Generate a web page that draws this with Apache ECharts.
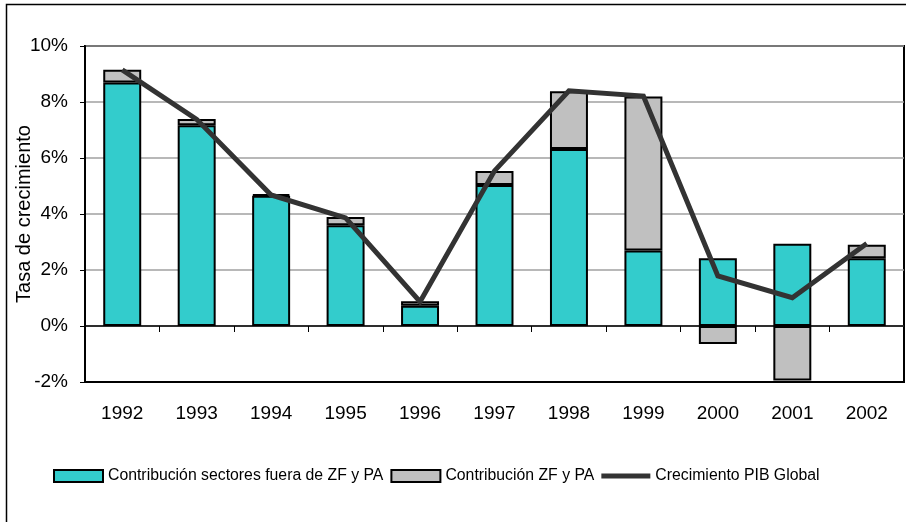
<!DOCTYPE html>
<html>
<head>
<meta charset="utf-8">
<script src="https://cdn.jsdelivr.net/npm/echarts@6/dist/echarts.min.js"></script>
<style>
  html, body { margin: 0; padding: 0; background: #fff; }
  #chart { width: 906px; height: 522px; }
</style>
</head>
<body>
<div id="chart"></div>
<script>
// Años del periodo
const years = ['1992', '1993', '1994', '1995', '1996', '1997', '1998', '1999', '2000', '2001', '2002'];
// Contribución de los sectores fuera de ZF y PA (puntos porcentuales)
const fueraZF = [8.70, 7.17, 4.65, 3.60, 0.72, 5.04, 6.32, 2.70, 2.42, 2.94, 2.42];
// Contribución de ZF y PA (puntos porcentuales)
const zfPA = [0.45, 0.22, 0.05, 0.29, 0.16, 0.50, 2.06, 5.50, -0.64, -1.95, 0.48];
// Crecimiento del PIB global (%)
const pibGlobal = [9.15, 7.38, 4.68, 3.86, 0.87, 5.54, 8.40, 8.21, 1.79, 1.01, 2.95];
// Marcas del eje vertical (%)
const yMin = -2, yMax = 10, yStep = 2;

const FONT = '"Liberation Sans", Arial, sans-serif';

const chart = echarts.init(document.getElementById('chart'), null, { renderer: 'canvas' });

chart.setOption({
  animation: false,
  backgroundColor: '#ffffff',
  textStyle: { fontFamily: FONT, color: '#000' },
  graphic: [{
    type: 'rect',
    silent: true,
    shape: { x: 6.5, y: 4.5, width: 1000, height: 1000 },
    style: { fill: 'none', stroke: '#000', lineWidth: 1.5 }
  }],
  grid: {
    left: 85, right: 2, top: 46, bottom: 140,
    outerBoundsMode: 'none',
    containLabel: false,
    show: true, borderColor: '#000', borderWidth: 2, backgroundColor: 'transparent'
  },
  legend: {
    left: 53, top: 468, padding: 0,
    itemWidth: 49, itemHeight: 12, itemGap: 7,
    icon: 'rect',
    textStyle: { fontFamily: FONT, fontSize: 15.8, color: '#000' },
    data: [
      { name: 'Contribución sectores fuera de ZF y PA', icon: 'rect' },
      { name: 'Contribución ZF y PA', icon: 'rect' },
      { name: 'Crecimiento PIB Global', icon: 'path://M0,0H100V10H0Z' }
    ]
  },
  xAxis: [{
    type: 'category',
    data: years,
    position: 'bottom',
    axisLine: { onZero: false, lineStyle: { color: '#000', width: 2 } },
    axisTick: { show: false },
    axisLabel: { fontFamily: FONT, fontSize: 19, color: '#000', margin: 22 },
    splitLine: { show: false }
  }, {
    type: 'category',
    data: years,
    position: 'top',
    axisLine: { onZero: true, lineStyle: { color: '#000', width: 1.5 } },
    axisTick: { show: true, inside: true, length: 6, lineStyle: { color: '#000', width: 1 } },
    axisLabel: { show: false },
    splitLine: { show: false }
  }],
  yAxis: {
    type: 'value',
    min: yMin, max: yMax, interval: yStep,
    name: 'Tasa de crecimiento',
    nameLocation: 'middle',
    nameGap: 51,
    nameMoveOverlap: false,
    nameTextStyle: { fontFamily: FONT, fontSize: 20, color: '#000' },
    axisLine: { show: true, lineStyle: { color: '#000', width: 2 } },
    axisTick: { show: true, length: 5, lineStyle: { color: '#000', width: 1 } },
    axisLabel: { fontFamily: FONT, fontSize: 19, color: '#000', margin: 17, formatter: '{value}%' },
    splitLine: { show: true, lineStyle: { color: '#a0a0a0', width: 1.5 } }
  },
  series: [{
    name: 'Contribución sectores fuera de ZF y PA',
    type: 'bar',
    stack: 'contrib',
    data: fueraZF,
    barWidth: '51%',
    itemStyle: { color: '#33cccc', borderColor: '#000', borderWidth: 2 },
    z: 2
  }, {
    name: 'Contribución ZF y PA',
    type: 'bar',
    stack: 'contrib',
    data: zfPA,
    barWidth: '51%',
    itemStyle: { color: '#c0c0c0', borderColor: '#000', borderWidth: 2 },
    z: 2
  }, {
    name: 'Crecimiento PIB Global',
    type: 'line',
    data: pibGlobal,
    symbol: 'none',
    lineStyle: { color: '#333333', width: 5, join: 'miter' },
    itemStyle: { color: '#333333' },
    z: 5
  }]
});
</script>
</body>
</html>
